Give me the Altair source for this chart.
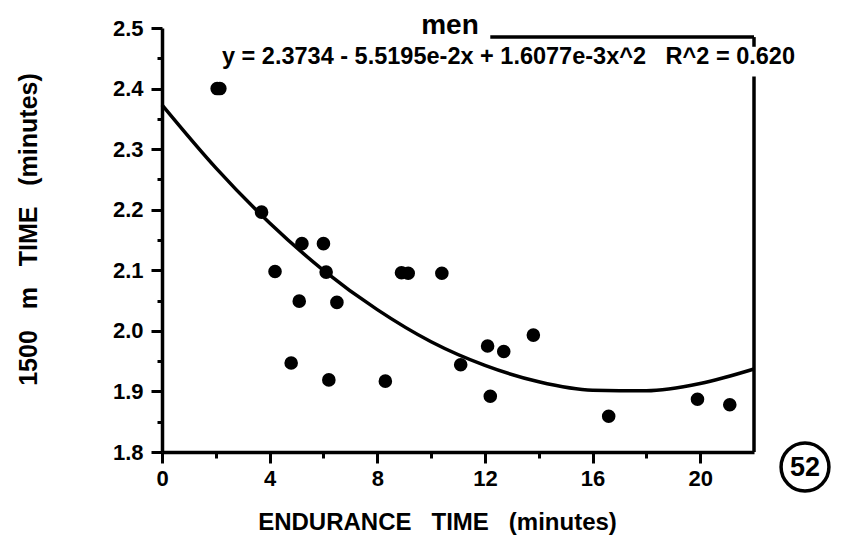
import altair as alt
import pandas as pd

# ---- data ----
endurance_min = [2.05, 2.15, 3.7, 4.2, 4.8, 5.1, 5.2, 6.0, 6.1, 6.2, 6.5, 8.3,
                 8.9, 9.15, 10.4, 11.1, 12.1, 12.2, 12.7, 13.8, 16.6, 19.9, 21.1]
time_1500m = [2.400, 2.400, 2.196, 2.098, 1.947, 2.049, 2.144, 2.144, 2.097, 1.919,
              2.047, 1.917, 2.096, 2.095, 2.095, 1.944, 1.975, 1.892, 1.966, 1.993,
              1.859, 1.887, 1.878]

# fitted curve
fit_x = [0, 2, 4, 6, 8, 10, 12, 14, 16, 18, 20, 22]
fit_y = [2.373, 2.269, 2.178, 2.100, 2.035, 1.982, 1.943, 1.916, 1.902, 1.901, 1.913, 1.937]

x_tick_values = [0, 2, 4, 6, 8, 10, 12, 14, 16, 18, 20]
y_tick_values = [1.8, 1.85, 1.9, 1.95, 2.0, 2.05, 2.1, 2.15, 2.2, 2.25, 2.3, 2.35, 2.4, 2.45, 2.5]

title_text = "men"
equation_text = "y = 2.3734 - 5.5195e-2x + 1.6077e-3x^2\u00a0\u00a0\u00a0R^2 = 0.620"
x_title = "ENDURANCE\u00a0\u00a0\u00a0TIME\u00a0\u00a0\u00a0(minutes)"
y_title = "1500\u00a0\u00a0\u00a0m\u00a0\u00a0\u00a0TIME\u00a0\u00a0\u00a0(minutes)"
badge_text = "52"

# frame pieces (partial top line and broken right edge)
frame_x0 = [12.2, 22, 22]
frame_x1 = [22, 22, 22]
frame_y0 = [2.485, 2.485, 2.42]
frame_y1 = [2.485, 2.469, 1.8]

FONT = "Liberation Sans"

pts = pd.DataFrame({"endurance": endurance_min, "time": time_1500m})
fit = pd.DataFrame({"fx": fit_x, "fy": fit_y})
frame = pd.DataFrame({"x0": frame_x0, "x1": frame_x1, "y0": frame_y0, "y1": frame_y1})
eq = pd.DataFrame({"label": [equation_text], "ex": [2.23], "ey": [2.452]})
badge = pd.DataFrame({"t": [badge_text]})
ttl = pd.DataFrame({"t": [title_text]})

x_scale = alt.Scale(domain=[0, 22], nice=False, zero=False)
y_scale = alt.Scale(domain=[1.8, 2.5], nice=False, zero=False)

x_axis = alt.Axis(
    title=x_title,
    values=x_tick_values,
    labelExpr="datum.value % 4 === 0 ? datum.label : ''",
    format="d",
    grid=False,
    domainColor="black",
    domainWidth=3.5,
    tickColor="black",
    tickWidth=3,
    tickSize={"condition": {"test": "datum.value % 4 === 0", "value": 11}, "value": 6},
    labelFont=FONT,
    labelFontSize=22,
    labelFontWeight="bold",
    labelColor="black",
    labelPadding=5,
    labelFlush=False,
    titleFont=FONT,
    titleFontSize=24,
    titleFontWeight="bold",
    titleColor="black",
    titleX=275,
    titleY=70,
    titleAlign="center",
    titleBaseline="middle",
)

y_axis = alt.Axis(
    title=y_title,
    values=y_tick_values,
    labelExpr="round(datum.value * 100) % 10 === 0 ? format(datum.value, '.1f') : ''",
    grid=False,
    domainColor="black",
    domainWidth=3.5,
    tickColor="black",
    tickWidth=3,
    tickSize={"condition": {"test": "round(datum.value * 100) % 10 === 0", "value": 11}, "value": 5},
    labelFont=FONT,
    labelFontSize=22,
    labelFontWeight="bold",
    labelColor="black",
    labelPadding=8,
    labelFlush=False,
    titleFont=FONT,
    titleFontSize=25,
    titleFontWeight="bold",
    titleColor="black",
    titleX=-134,
    titleY=201,
    titleAngle=270,
    titleAlign="center",
    titleBaseline="middle",
)

points = alt.Chart(pts).mark_circle(size=185, color="black", opacity=1).encode(
    x=alt.X("endurance:Q", scale=x_scale, axis=x_axis),
    y=alt.Y("time:Q", scale=y_scale, axis=y_axis),
)

curve = alt.Chart(fit).mark_line(color="black", strokeWidth=3.5, interpolate="monotone").encode(
    x=alt.X("fx:Q", scale=x_scale, axis=x_axis),
    y=alt.Y("fy:Q", scale=y_scale, axis=y_axis),
)

frame_rules = alt.Chart(frame).mark_rule(color="black", strokeWidth=3.5).encode(
    x=alt.X("x0:Q", scale=x_scale, axis=x_axis),
    x2="x1:Q",
    y=alt.Y("y0:Q", scale=y_scale, axis=y_axis),
    y2="y1:Q",
)

equation = alt.Chart(eq).mark_text(
    align="left", baseline="middle", font=FONT, fontSize=23.5,
    fontWeight="bold", color="black",
).encode(
    x=alt.X("ex:Q", scale=x_scale, axis=x_axis),
    y=alt.Y("ey:Q", scale=y_scale, axis=y_axis),
    text="label:N",
)

title_mark = alt.Chart(ttl).mark_text(
    font=FONT, fontSize=28, fontWeight="bold", color="black",
    align="center", baseline="alphabetic",
).encode(x=alt.value(288), y=alt.value(6), text="t:N")

badge_ring = alt.Chart(badge).mark_point(
    shape="circle", size=2290, filled=False, strokeWidth=3.5, color="black", opacity=1
).encode(x=alt.value(643), y=alt.value(439))

badge_label = alt.Chart(badge).mark_text(
    font=FONT, fontSize=27, fontWeight="bold", color="black",
    align="center", baseline="middle",
).encode(x=alt.value(643), y=alt.value(440), text="t:N")

chart = alt.layer(curve, points, frame_rules, equation, title_mark, badge_ring, badge_label).properties(
    width=592,
    height=424,
    padding={"left": 154, "top": 20, "right": 79, "bottom": 93},
    autosize=alt.AutoSizeParams(type="none"),
    background="white",
).configure_view(stroke=None)

chart.save("out.html", embed_options={"renderer": "svg", "actions": False})
